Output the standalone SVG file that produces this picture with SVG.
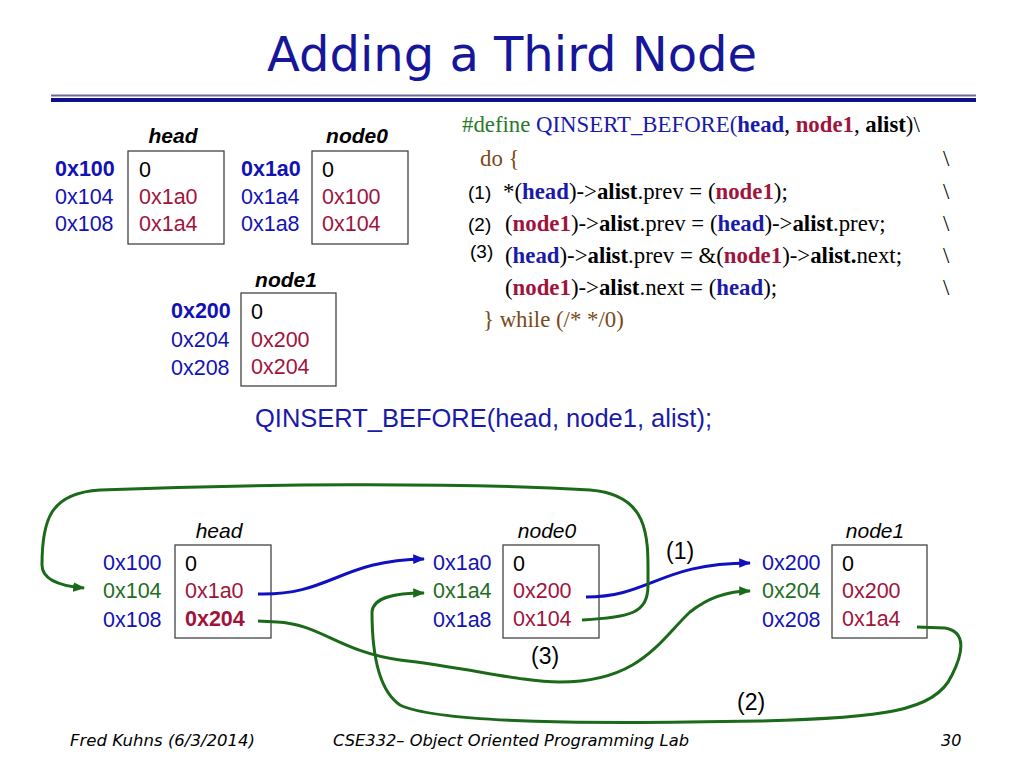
<svg xmlns="http://www.w3.org/2000/svg" width="1024" height="768" viewBox="0 0 1024 768">
<defs>
<style>
.t{font-family:"DejaVu Sans","Liberation Sans",sans-serif;font-size:48px;fill:#16169a}
.a{font-family:"Liberation Sans",Arial,sans-serif;font-size:21.5px}
.ab{font-weight:bold}
.blue{fill:#1212b4}
.grn{fill:#1e6e1e}
.red{fill:#a0143c}
.blk{fill:#000}
.lbl{font-family:"Liberation Sans",Arial,sans-serif;font-size:21px;font-style:italic;fill:#000}
.lblb{font-weight:bold}
.box{fill:none;stroke:#444;stroke-width:1.3}
.code{font-family:"Liberation Serif","Times New Roman",serif;font-size:22.8px;fill:#000}
.cb{font-weight:bold}
.cblue{fill:#1a1aaa}
.cred{fill:#a0143c}
.cgrn{fill:#2a7a2a}
.cbrn{fill:#7a4a1a}
.num{font-family:"Liberation Sans",Arial,sans-serif;font-size:19px;fill:#000}
.foot{font-family:"DejaVu Sans","Liberation Sans",sans-serif;font-size:16px;font-style:italic;fill:#000}
.cb1{fill:none;stroke:#1010c0;stroke-width:3}
.cg1{fill:none;stroke:#1a6a1a;stroke-width:3}
.step{font-family:"Liberation Sans",Arial,sans-serif;font-size:23px;fill:#000}
</style>
<marker id="ab" viewBox="0 0 10 10" refX="9" refY="5" markerWidth="4" markerHeight="4" orient="auto" markerUnits="strokeWidth"><path d="M0,1 L10,5 L0,9 z" fill="#1010c0"/></marker>
<marker id="ag" viewBox="0 0 10 10" refX="9" refY="5" markerWidth="4" markerHeight="4" orient="auto" markerUnits="strokeWidth"><path d="M0,1 L10,5 L0,9 z" fill="#1a6a1a"/></marker>
</defs>
<rect width="1024" height="768" fill="#fff"/>

<text class="t" x="512" y="71" text-anchor="middle" textLength="490" lengthAdjust="spacingAndGlyphs">Adding a Third Node</text>
<line x1="51" y1="95.5" x2="976" y2="95.5" stroke="#6a6a9a" stroke-width="2"/>
<line x1="51" y1="100" x2="976" y2="100" stroke="#10108a" stroke-width="4"/>

<g id="top-head">
<text class="lbl lblb" x="173" y="143" text-anchor="middle">head</text>
<rect class="box" x="128" y="151" width="96" height="93"/>
<text class="a ab blue" x="55" y="176">0x100</text>
<text class="a blue" x="55" y="204">0x104</text>
<text class="a blue" x="55" y="231">0x108</text>
<text class="a blk" x="139" y="177">0</text>
<text class="a red" x="139" y="204">0x1a0</text>
<text class="a red" x="139" y="231">0x1a4</text>
</g>
<g id="top-node0">
<text class="lbl lblb" x="357" y="143" text-anchor="middle">node0</text>
<rect class="box" x="312" y="151" width="96" height="93"/>
<text class="a ab blue" x="241" y="176">0x1a0</text>
<text class="a blue" x="241" y="204">0x1a4</text>
<text class="a blue" x="241" y="231">0x1a8</text>
<text class="a blk" x="322" y="177">0</text>
<text class="a red" x="322" y="204">0x100</text>
<text class="a red" x="322" y="231">0x104</text>
</g>
<g id="top-node1">
<text class="lbl lblb" x="286" y="287" text-anchor="middle">node1</text>
<rect class="box" x="241" y="293" width="95" height="93"/>
<text class="a ab blue" x="171" y="318">0x200</text>
<text class="a blue" x="171" y="347">0x204</text>
<text class="a blue" x="171" y="375">0x208</text>
<text class="a blk" x="251" y="319">0</text>
<text class="a red" x="251" y="347">0x200</text>
<text class="a red" x="251" y="374">0x204</text>
</g>

<g id="code">
<text class="code" x="462" y="132"><tspan class="cgrn">#define</tspan><tspan class="cblue"> QINSERT_BEFORE(</tspan><tspan class="cb cblue">head</tspan>, <tspan class="cb cred">node1</tspan>, <tspan class="cb">alist</tspan>)\</text>
<text class="code cbrn" x="480" y="166">do {</text>
<text class="num" x="468" y="199">(1)</text>
<text class="code" x="503" y="199">*(<tspan class="cb cblue">head</tspan>)-&gt;<tspan class="cb">alist</tspan>.prev = (<tspan class="cb cred">node1</tspan>);</text>
<text class="num" x="468" y="231">(2)</text>
<text class="code" x="505" y="231">(<tspan class="cb cred">node1</tspan>)-&gt;<tspan class="cb">alist</tspan>.prev = (<tspan class="cb cblue">head</tspan>)-&gt;<tspan class="cb">alist</tspan>.prev;</text>
<text class="num" x="470" y="258">(3)</text>
<text class="code" x="505" y="263">(<tspan class="cb cblue">head</tspan>)-&gt;<tspan class="cb">alist</tspan>.prev  = &amp;(<tspan class="cb cred">node1</tspan>)-&gt;<tspan class="cb">alist.</tspan>next;</text>
<text class="code" x="505" y="295">(<tspan class="cb cred">node1</tspan>)-&gt;<tspan class="cb">alist</tspan>.next = (<tspan class="cb cblue">head</tspan>);</text>
<text class="code cbrn" x="483" y="327">} while (/* */0)</text>
<text class="code" x="943" y="166">\</text>
<text class="code" x="943" y="199">\</text>
<text class="code" x="943" y="231">\</text>
<text class="code" x="943" y="263">\</text>
<text class="code" x="943" y="295">\</text>
</g>

<text class="a cblue" x="255" y="427" style="font-size:25px" textLength="457" lengthAdjust="spacingAndGlyphs">QINSERT_BEFORE(head, node1, alist);</text>

<g id="head">
<text class="lbl" x="219" y="538" text-anchor="middle">head</text>
<rect class="box" x="175" y="545" width="96" height="93"/>
<text class="a blue" x="103" y="570">0x100</text>
<text class="a grn" x="103" y="598">0x104</text>
<text class="a blue" x="103" y="627">0x108</text>
<text class="a blk" x="185" y="571">0</text>
<text class="a red" x="185" y="598">0x1a0</text>
<text class="a ab red" x="185" y="626">0x204</text>
</g>
<g id="node0">
<text class="lbl" x="547" y="538" text-anchor="middle">node0</text>
<rect class="box" x="503" y="545" width="96" height="93"/>
<text class="a blue" x="433" y="570">0x1a0</text>
<text class="a grn" x="433" y="598">0x1a4</text>
<text class="a blue" x="433" y="627">0x1a8</text>
<text class="a blk" x="513" y="571">0</text>
<text class="a red" x="513" y="598">0x200</text>
<text class="a red" x="513" y="626">0x104</text>
</g>
<g id="node1">
<text class="lbl" x="875" y="538" text-anchor="middle">node1</text>
<rect class="box" x="832" y="545" width="95" height="93"/>
<text class="a blue" x="762" y="570">0x200</text>
<text class="a grn" x="762" y="598">0x204</text>
<text class="a blue" x="762" y="627">0x208</text>
<text class="a blk" x="842" y="571">0</text>
<text class="a red" x="842" y="598">0x200</text>
<text class="a red" x="842" y="626">0x1a4</text>
</g>

<g id="connectors">
<path class="cb1" marker-end="url(#ab)" d="M258 594 C330 596 340 560 424 559"/>
<path class="cb1" marker-end="url(#ab)" d="M586 597 C650 597 660 563 750 563"/>
<path class="cg1" marker-end="url(#ag)" d="M582 620 C630 617 648 614 648 585 C648 540 652 495 590 490 C450 482 250 484 100 490 C50 493 42 520 42 565 C42 580 60 586 84 588"/>
<path class="cg1" marker-end="url(#ag)" d="M258 621 L277 622 C320 624 340 652 400 660 C470 668 520 682 560 682 C640 682 660 640 690 612 C710 596 730 591 750 591"/>
<path class="cg1" marker-end="url(#ag)" d="M917 627 L945 628 C968 632 962 655 952 675 C935 712 880 718 760 721 C600 724 440 724 400 705 C378 690 372 650 372 612 C373 597 395 593 424 593"/>
</g>
<text class="step" x="666" y="559">(1)</text>
<text class="step" x="531" y="664">(3)</text>
<text class="step" x="737" y="710">(2)</text>

<text class="foot" x="70" y="746" textLength="185" lengthAdjust="spacingAndGlyphs">Fred Kuhns (6/3/2014)</text>
<text class="foot" x="333" y="746" textLength="356" lengthAdjust="spacingAndGlyphs">CSE332– Object Oriented Programming Lab</text>
<text class="foot" x="941" y="746">30</text>
</svg>
